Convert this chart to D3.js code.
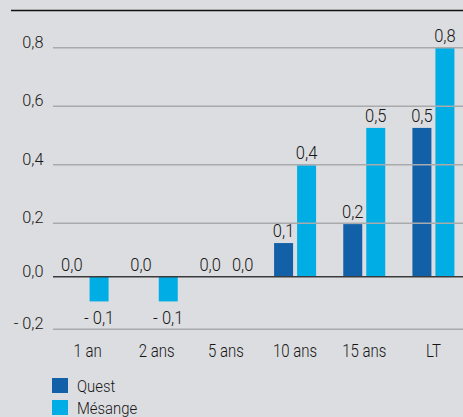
<!DOCTYPE html>
<html>
<head>
<meta charset="utf-8">
<script src="https://cdn.jsdelivr.net/npm/d3@7/dist/d3.min.js"></script>
<style>
  html, body { margin: 0; padding: 0; background: #dcdde0; }
  svg { display: block; }
  text { font-family: Roboto, "Noto Sans", sans-serif; font-weight: 300; fill: #161616; }
</style>
</head>
<body>
<svg id="chart" width="463" height="417"></svg>
<script>
const categories = ["1 an", "2 ans", "5 ans", "10 ans", "15 ans", "LT"];
const seriesNames = ["Quest", "Mésange"];
const questValues = [0.0, 0.0, 0.0, 0.126, 0.197, 0.526];
const mesangeValues = [-0.094, -0.094, 0.0, 0.398, 0.526, 0.8];
const yTicks = [-0.2, 0.0, 0.2, 0.4, 0.6, 0.8];
const colors = { "Quest": "#1261a8", "Mésange": "#00aee5" };

const svg = d3.select("#chart");
const W = 463, H = 417;

// The original value axis is not evenly spaced; use a piecewise linear scale
const y = d3.scaleLinear()
  .domain(yTicks)
  .range([329.3, 276.7, 223.3, 164.7, 106.3, 47.7]);

const x = d3.scaleBand().domain(categories).range([53, 468]).padding(0);
const xs = d3.scaleBand().domain(seriesNames).range([-21, 21]).paddingInner(0.1739).paddingOuter(0);

const fmt = v => {
  const s = d3.format(".1f")(Math.abs(v)).replace(".", ",");
  return (v < 0 && Math.abs(v) >= 0.05 ? "- " : "") + s;
};

const data = [];
categories.forEach((c, i) => {
  data.push({ cat: c, series: "Quest", value: questValues[i] });
  data.push({ cat: c, series: "Mésange", value: mesangeValues[i] });
});

// top frame line
svg.append("line")
  .attr("x1", 11).attr("x2", W).attr("y1", 10.5).attr("y2", 10.5)
  .attr("stroke", "#111").attr("stroke-width", 1.5);

// bars
const cx = d => x(d.cat) + x.bandwidth() / 2 + xs(d.series);
svg.append("g").selectAll("rect").data(data).join("rect")
  .attr("x", d => cx(d))
  .attr("width", xs.bandwidth())
  .attr("y", d => Math.min(y(d.value), y(0)))
  .attr("height", d => Math.abs(y(d.value) - y(0)))
  .attr("fill", d => colors[d.series]);

// gridlines (over bars)
svg.append("g").selectAll("line").data(yTicks.filter(t => t !== 0)).join("line")
  .attr("x1", 53).attr("x2", W)
  .attr("y1", d => y(d)).attr("y2", d => y(d))
  .attr("stroke", "#a9aaac").attr("stroke-width", 1.5);

// zero line
svg.append("line")
  .attr("x1", 53).attr("x2", W).attr("y1", y(0)).attr("y2", y(0))
  .attr("stroke", "#3a3a3a").attr("stroke-width", 1.5);

// y tick labels
svg.append("g").selectAll("text").data(yTicks).join("text")
  .attr("transform", d => `translate(43.5,${y(d)}) scale(0.97,1)`)
  .attr("text-anchor", "end")
  .style("font-size", "16.8px")
  .text(d => fmt(d));

// x labels
svg.append("g").selectAll("text").data(categories).join("text")
  .attr("transform", d => `translate(${x(d) + x.bandwidth() / 2},356.7) scale(0.82,1)`)
  .attr("text-anchor", "middle")
  .style("font-size", "18.3px")
  .text(d => d);

// value labels; zero-height labels are pushed apart so the pair does not collide
const isZero = d => Math.abs(d.value) < 1e-9;
svg.append("g").selectAll("text").data(data).join("text")
  .attr("transform", d => {
    let tx = cx(d) + xs.bandwidth() / 2;
    if (isZero(d)) tx = d.series === "Quest" ? cx(d) + xs.bandwidth() - 3 : cx(d) + 4;
    const ty = d.value < 0 ? y(d.value) + 22.3 : y(d.value) - 5.8;
    return `translate(${tx},${ty}) scale(0.87,1)`;
  })
  .attr("text-anchor", d => isZero(d) ? (d.series === "Quest" ? "end" : "start") : "middle")
  .style("font-size", "19px")
  .text(d => fmt(d.value));

// legend
const lg = svg.append("g").selectAll("g").data(seriesNames).join("g")
  .attr("transform", (d, i) => `translate(52,${378 + i * 22})`);
lg.append("rect").attr("width", 16).attr("height", 15).attr("fill", d => colors[d]);
lg.append("text")
  .attr("transform", "translate(25,13.5) scale(0.88,1)")
  .style("font-size", "16.9px")
  .text(d => d);
</script>
</body>
</html>
